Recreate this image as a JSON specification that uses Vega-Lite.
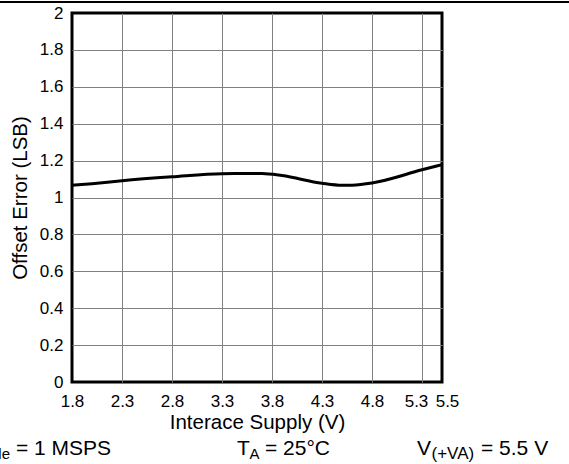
{
  "$schema": "https://vega.github.io/schema/vega-lite/v6.json",
  "width": 370,
  "height": 369,
  "autosize": {"type": "none"},
  "padding": {"left": 72, "top": 13, "right": 127, "bottom": 82},
  "background": "white",
  "config": {
    "font": "Liberation Sans",
    "view": {"stroke": "black", "strokeWidth": 3},
    "axis": {
      "labelFont": "Liberation Sans",
      "titleFont": "Liberation Sans",
      "labelFontSize": 17,
      "titleFontSize": 20.5,
      "titleFontWeight": "normal",
      "labelColor": "black",
      "titleColor": "black",
      "ticks": false,
      "domain": false,
      "gridWidth": 1
    }
  },
  "resolve": {"axis": {"x": "independent", "y": "independent"}},
  "layer": [
    {
      "data": {"values": [
        {"supply": 1.8, "offset": 1.066},
        {"supply": 2.0, "offset": 1.075},
        {"supply": 2.3, "offset": 1.091},
        {"supply": 2.8, "offset": 1.112},
        {"supply": 3.3, "offset": 1.129},
        {"supply": 3.7, "offset": 1.130},
        {"supply": 3.9, "offset": 1.119},
        {"supply": 4.3, "offset": 1.077},
        {"supply": 4.5, "offset": 1.066},
        {"supply": 4.6, "offset": 1.067},
        {"supply": 4.8, "offset": 1.079},
        {"supply": 5.3, "offset": 1.150},
        {"supply": 5.5, "offset": 1.178}
      ]},
      "mark": {"type": "line", "color": "black", "strokeWidth": 3, "interpolate": "monotone"},
      "encoding": {
        "x": {
          "field": "supply", "type": "quantitative",
          "scale": {"domain": [1.8, 5.5], "nice": false, "zero": false},
          "axis": {
            "title": "Interace Supply (V)",
            "values": [1.8, 2.3, 2.8, 3.3, 3.8, 4.3, 4.8, 5.3, 5.5],
            "format": "~g",
            "labelPadding": 11,
            "titlePadding": 3,
            "labelFlush": false,
            "labelOverlap": false,
            "labelOffset": {"condition": [{"test": "datum.value > 5.25 && datum.value < 5.35", "value": -6}, {"test": "datum.value > 5.45", "value": 5}], "value": 0},
            "gridColor": {"condition": {"test": "datum.value <= 1.8 || datum.value >= 5.5", "value": "transparent"}, "value": "#808080"}
          }
        },
        "y": {
          "field": "offset", "type": "quantitative",
          "scale": {"domain": [0, 2], "nice": false},
          "axis": {
            "title": "Offset Error (LSB)",
            "values": [0, 0.2, 0.4, 0.6, 0.8, 1, 1.2, 1.4, 1.6, 1.8, 2],
            "format": "~g",
            "labelPadding": 9,
            "titlePadding": 9,
            "labelFlush": false,
            "labelOverlap": false,
            "gridColor": {"condition": {"test": "datum.value <= 0 || datum.value >= 2", "value": "transparent"}, "value": "#808080"}
          }
        }
      }
    },
    {
      "data": {"values": [{}]},
      "mark": {"type": "rule", "color": "black", "strokeWidth": 2},
      "encoding": {"x": {"datum": 1.0, "axis": null}, "x2": {"datum": 7.0}, "y": {"datum": 2.06, "axis": null}}
    },
    {
      "data": {"values": [{}]},
      "mark": {"type": "text", "align": "right", "baseline": "alphabetic", "fontSize": 21, "color": "black"},
      "encoding": {"x": {"datum": 0.6, "axis": null}, "y": {"datum": -0.396, "axis": null}, "text": {"value": "f"}}
    },
    {
      "data": {"values": [{}]},
      "mark": {"type": "text", "align": "right", "baseline": "alphabetic", "fontSize": 15, "color": "black"},
      "encoding": {"x": {"datum": 1.18, "axis": null}, "y": {"datum": -0.417, "axis": null}, "text": {"value": "Sample"}}
    },
    {
      "data": {"values": [{}]},
      "mark": {"type": "text", "align": "left", "baseline": "alphabetic", "fontSize": 21, "color": "black"},
      "encoding": {"x": {"datum": 1.24, "axis": null}, "y": {"datum": -0.396, "axis": null}, "text": {"value": "= 1 MSPS"}}
    },
    {
      "data": {"values": [{}]},
      "mark": {"type": "text", "align": "left", "baseline": "alphabetic", "fontSize": 21, "color": "black"},
      "encoding": {"x": {"datum": 3.45, "axis": null}, "y": {"datum": -0.396, "axis": null}, "text": {"value": "T"}}
    },
    {
      "data": {"values": [{}]},
      "mark": {"type": "text", "align": "left", "baseline": "alphabetic", "fontSize": 15, "color": "black"},
      "encoding": {"x": {"datum": 3.575, "axis": null}, "y": {"datum": -0.417, "axis": null}, "text": {"value": "A"}}
    },
    {
      "data": {"values": [{}]},
      "mark": {"type": "text", "align": "left", "baseline": "alphabetic", "fontSize": 21, "color": "black"},
      "encoding": {"x": {"datum": 3.73, "axis": null}, "y": {"datum": -0.396, "axis": null}, "text": {"value": "= 25°C"}}
    },
    {
      "data": {"values": [{}]},
      "mark": {"type": "text", "align": "left", "baseline": "alphabetic", "fontSize": 21, "color": "black"},
      "encoding": {"x": {"datum": 5.25, "axis": null}, "y": {"datum": -0.396, "axis": null}, "text": {"value": "V"}}
    },
    {
      "data": {"values": [{}]},
      "mark": {"type": "text", "align": "left", "baseline": "alphabetic", "fontSize": 17, "color": "black"},
      "encoding": {"x": {"datum": 5.395, "axis": null}, "y": {"datum": -0.417, "axis": null}, "text": {"value": "(+VA)"}}
    },
    {
      "data": {"values": [{}]},
      "mark": {"type": "text", "align": "left", "baseline": "alphabetic", "fontSize": 21, "color": "black"},
      "encoding": {"x": {"datum": 5.89, "axis": null}, "y": {"datum": -0.396, "axis": null}, "text": {"value": "= 5.5 V"}}
    }
  ]
}
